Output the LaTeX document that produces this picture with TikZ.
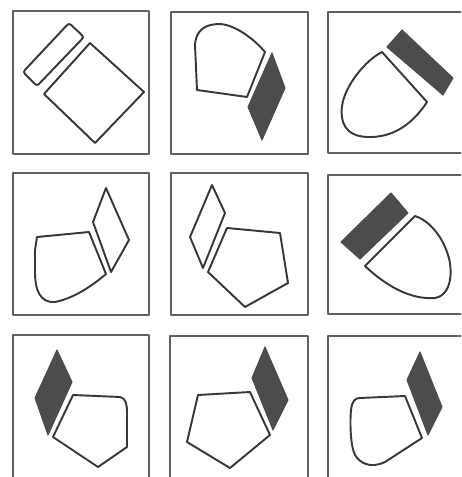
\documentclass[tikz,border=0pt]{standalone}
\begin{document}
\begin{tikzpicture}[x=0.02cm, y=-0.02cm, line join=round,
    frame/.style={line width=1.7pt, draw=black!62},
    outline/.style={line width=1.1pt, draw=black!78},
    darkpart/.style={fill=black!70, draw=black!70, line width=0.6pt}]
        % --- Khung ảnh và vùng cắt ---
        \useasboundingbox (0,0) rectangle (461,477);
        \clip (0,0) rectangle (461,477);

        % --- Chín khung ô vuông ---
        \draw[frame] (13,11) rectangle (149,154);
        \draw[frame] (171,12) rectangle (308,154);
        \draw[frame] (328,12) rectangle (475,153);
        \draw[frame] (13,173) rectangle (149,315);
        \draw[frame] (171,173) rectangle (308,315);
        \draw[frame] (328,175) rectangle (475,314);
        \draw[frame] (13,335) rectangle (149,490);
        \draw[frame] (170,336) rectangle (308,490);
        \draw[frame] (328,336) rectangle (475,490);

        % --- Ô 1: thanh mảnh và hình vuông ---
        \draw[outline, rounded corners=1.5pt] (69,23) -- (84,37) -- (37,86) -- (23,72) -- cycle;
        \draw[outline] (90,43) -- (144,92) -- (95,143) -- (44,94) -- cycle;

        % --- Ô 2: hình tròn góc và thoi đậm ---
        \draw[outline] (247,97) -- (197,90) -- (195,45)
            .. controls (196,30) and (205,24) .. (220,24)
            .. controls (236,25) and (255,40) .. (265,52) -- cycle;
        \draw[darkpart] (272,53) -- (285,88) -- (262,140) -- (248,107) -- cycle;

        % --- Ô 3: thanh đậm và hình viên đạn ---
        \draw[darkpart] (402,30) -- (453,78) -- (443,95) -- (387,47) -- cycle;
        \draw[outline] (382,52) -- (427,102)
            .. controls (412,125) and (392,138) .. (367,137)
            .. controls (345,136) and (340,122) .. (342,106)
            .. controls (345,85) and (366,60) .. (382,52) -- cycle;

        % --- Ô 4: ngũ giác cong và thoi rỗng ---
        \draw[outline] (37,237) -- (89,232) -- (106,274)
            .. controls (93,285) and (75,298) .. (55,302)
            .. controls (40,303) and (35,290) .. (35,272) -- (35,250) -- cycle;
        \draw[outline] (106,188) -- (129,240) -- (111,272) -- (93,222) -- cycle;

        % --- Ô 5: thoi rỗng và ngũ giác đều ---
        \draw[outline] (212,185) -- (225,213) -- (203,268) -- (190,237) -- cycle;
        \draw[outline] (227,228) -- (280,233) -- (288,283) -- (245,307) -- (208,272) -- cycle;

        % --- Ô 6: thanh đậm và hình viên đạn ---
        \draw[darkpart] (391,193) -- (408,213) -- (360,259) -- (341,242) -- cycle;
        \draw[outline] (415,216) -- (365,266)
            .. controls (385,285) and (410,300) .. (435,298)
            .. controls (452,295) and (453,270) .. (448,255)
            .. controls (442,235) and (428,220) .. (415,216) -- cycle;

        % --- Ô 7: thoi đậm và ngũ giác cong ---
        \draw[darkpart] (57,350) -- (72,382) -- (48,435) -- (35,398) -- cycle;
        \draw[outline] (73,395) -- (120,397)
            .. controls (126,398) and (127,405) .. (127,412)
            -- (127,447) -- (98,467) -- (53,437) -- cycle;

        % --- Ô 8: ngũ giác đều và thoi đậm ---
        \draw[outline] (198,395) -- (250,392) -- (270,435) -- (230,468) -- (187,442) -- cycle;
        \draw[darkpart] (265,347) -- (288,400) -- (273,430) -- (252,378) -- cycle;

        % --- Ô 9: ngũ giác cong và thoi đậm ---
        \draw[outline] (360,398) -- (405,396) -- (422,438) -- (385,462)
            .. controls (370,469) and (360,463) .. (355,455)
            .. controls (350,445) and (350,420) .. (351,410)
            .. controls (352,401) and (355,398) .. (360,398) -- cycle;
        \draw[darkpart] (420,352) -- (442,407) -- (428,435) -- (407,380) -- cycle;
\end{tikzpicture}
\end{document}
